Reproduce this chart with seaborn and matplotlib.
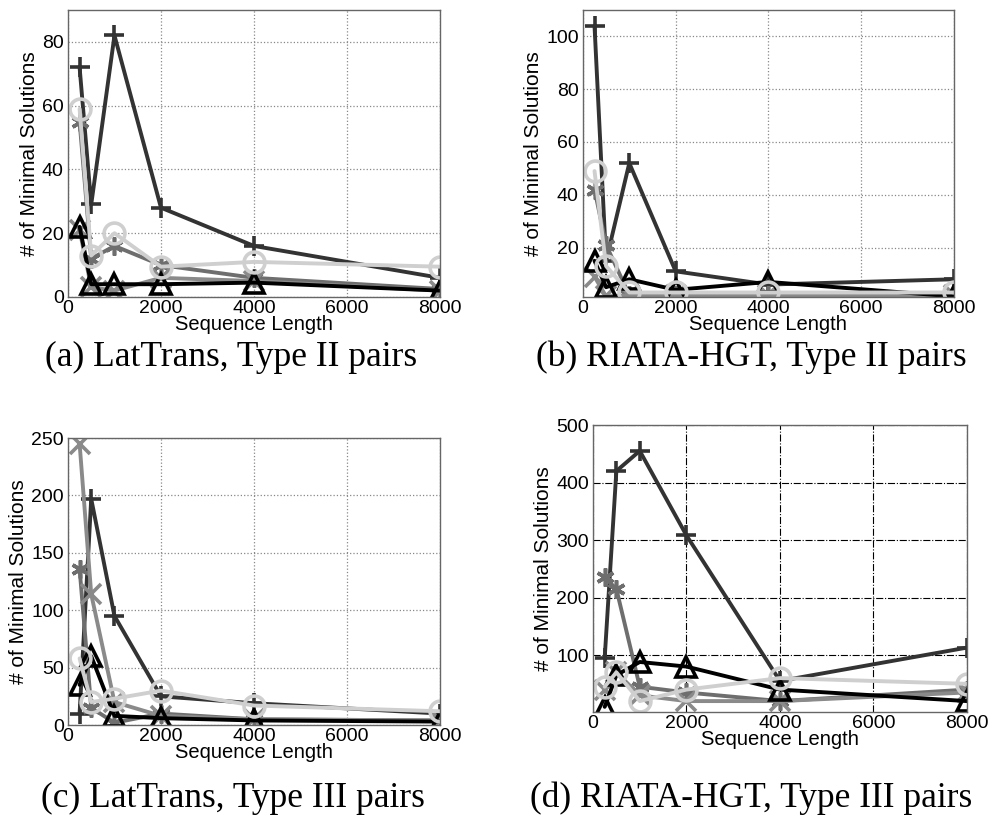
import numpy as np
import pandas as pd
import matplotlib
matplotlib.use("Agg")
import matplotlib.pyplot as plt
import seaborn as sns

# sequence lengths on the x axis
seq_len = [250, 500, 1000, 2000, 4000, 8000]

# (a) LatTrans, Type II pairs
a_plus = [72, 29, 82, 28, 16, 6]
a_star = [55, 12, 16, 10, 6, 2.5]
a_x = [21, 3, 2, 6, 5, 2]
a_tri = [22, 4, 4, 4, 4.5, 2]
a_circ = [59, 13, 20, 9.5, 11, 9.5]

# (b) RIATA-HGT, Type II pairs
b_plus = [104, 15, 52, 11, 6, 8]
b_star = [42, 21, 2, 2, 2, 2]
b_x = [9, 1.5, 2, 2, 2, 2]
b_tri = [15, 5, 8, 4, 7, 1.5]
b_circ = [49, 13, 3, 3, 3, 3]

# (c) LatTrans, Type III pairs
c_plus = [10, 197, 95, 25, 19, 10]
c_star = [136, 15, 2, 10, 5, 4]
c_x = [245, 114, 20, 8, 5, 4]
c_tri = [35, 60, 8, 6, 4, 3]
c_circ = [58, 20, 23, 30, 17, 12]

# (d) RIATA-HGT, Type III pairs
d_plus = [95, 420, 455, 308, 55, 113]
d_star = [235, 215, 45, 35, 20, 40]
d_x = [40, 70, 30, 20, 20, 35]
d_tri = [10, 65, 88, 80, 40, 20]
d_circ = [45, 70, 20, 40, 60, 50]

captions = ["(a) LatTrans, Type II pairs", "(b) RIATA-HGT, Type II pairs",
            "(c) LatTrans, Type III pairs", "(d) RIATA-HGT, Type III pairs"]

sns.set_style("white")
plt.rcParams['font.family'] = ['Liberation Sans', 'DejaVu Sans']
plt.rcParams['text.color'] = 'black'
plt.rcParams['axes.labelcolor'] = 'black'

fig = plt.figure(figsize=(9.88, 8.24), dpi=100)

# left, bottom, width, height
boxes = [[0.0688, 0.6396, 0.3765, 0.3483],
         [0.590, 0.6396, 0.3755, 0.3483],
         [0.0688, 0.1201, 0.3765, 0.3483],
         [0.6002, 0.1359, 0.3785, 0.3483]]
ylims = [(0, 90), (1.3, 110), (0, 250), (1, 500)]
yticks = [[0, 20, 40, 60, 80], [20, 40, 60, 80, 100],
          [0, 50, 100, 150, 200, 250], [100, 200, 300, 400, 500]]
cap_pos = [(0.234, 0.566), (0.76, 0.566), (0.236, 0.031), (0.76, 0.031)]

panels = [
    (a_plus, a_star, a_x, a_tri, a_circ),
    (b_plus, b_star, b_x, b_tri, b_circ),
    (c_plus, c_star, c_x, c_tri, c_circ),
    (d_plus, d_star, d_x, d_tri, d_circ),
]

# marker, colour, hollow?
asterisk = (6, 2, 0)
styles = [("+", "#333333", False),
          (asterisk, "#6e6e6e", False),
          ("x", "#8a8a8a", False),
          ("^", "#000000", True),
          ("o", "#cfcfcf", True)]

for i, series in enumerate(panels):
    ax = fig.add_axes(boxes[i])
    for vals, (mk, col, hollow) in zip(series, styles):
        kw = dict(marker=mk, markersize=15 if mk != asterisk else 13,
                  markeredgewidth=2.6, markeredgecolor=col, color=col, lw=2.8)
        kw["markerfacecolor"] = "none" if hollow else col
        sns.lineplot(x=seq_len, y=vals, ax=ax, **kw)

    ax.set_xlim(0, 8000)
    ax.set_ylim(*ylims[i])
    ax.set_xticks([0, 2000, 4000, 6000, 8000])
    ax.set_yticks(yticks[i])
    if i == 3:
        ax.grid(True, color="black", linestyle="-.", linewidth=0.8)
    else:
        ax.grid(True, color="#888888", linestyle=":", linewidth=0.9)
    for s in ax.spines.values():
        s.set_color("#666666")
        s.set_linewidth(1.0)
    ax.tick_params(axis="both", labelsize=14, length=4,
                   direction="in", colors="black")
    ax.tick_params(axis="x", pad=2)
    ax.tick_params(axis="y", pad=3)
    ax.set_xlabel("Sequence Length", fontsize=14.5, labelpad=-1)
    ax.set_ylabel("# of Minimal Solutions", fontsize=15, labelpad=2)
    fig.text(cap_pos[i][0], cap_pos[i][1], captions[i], ha="center", va="center",
             fontsize=25.5, family=["Liberation Serif", "DejaVu Serif"])

fig.savefig("out.png", dpi=100)
